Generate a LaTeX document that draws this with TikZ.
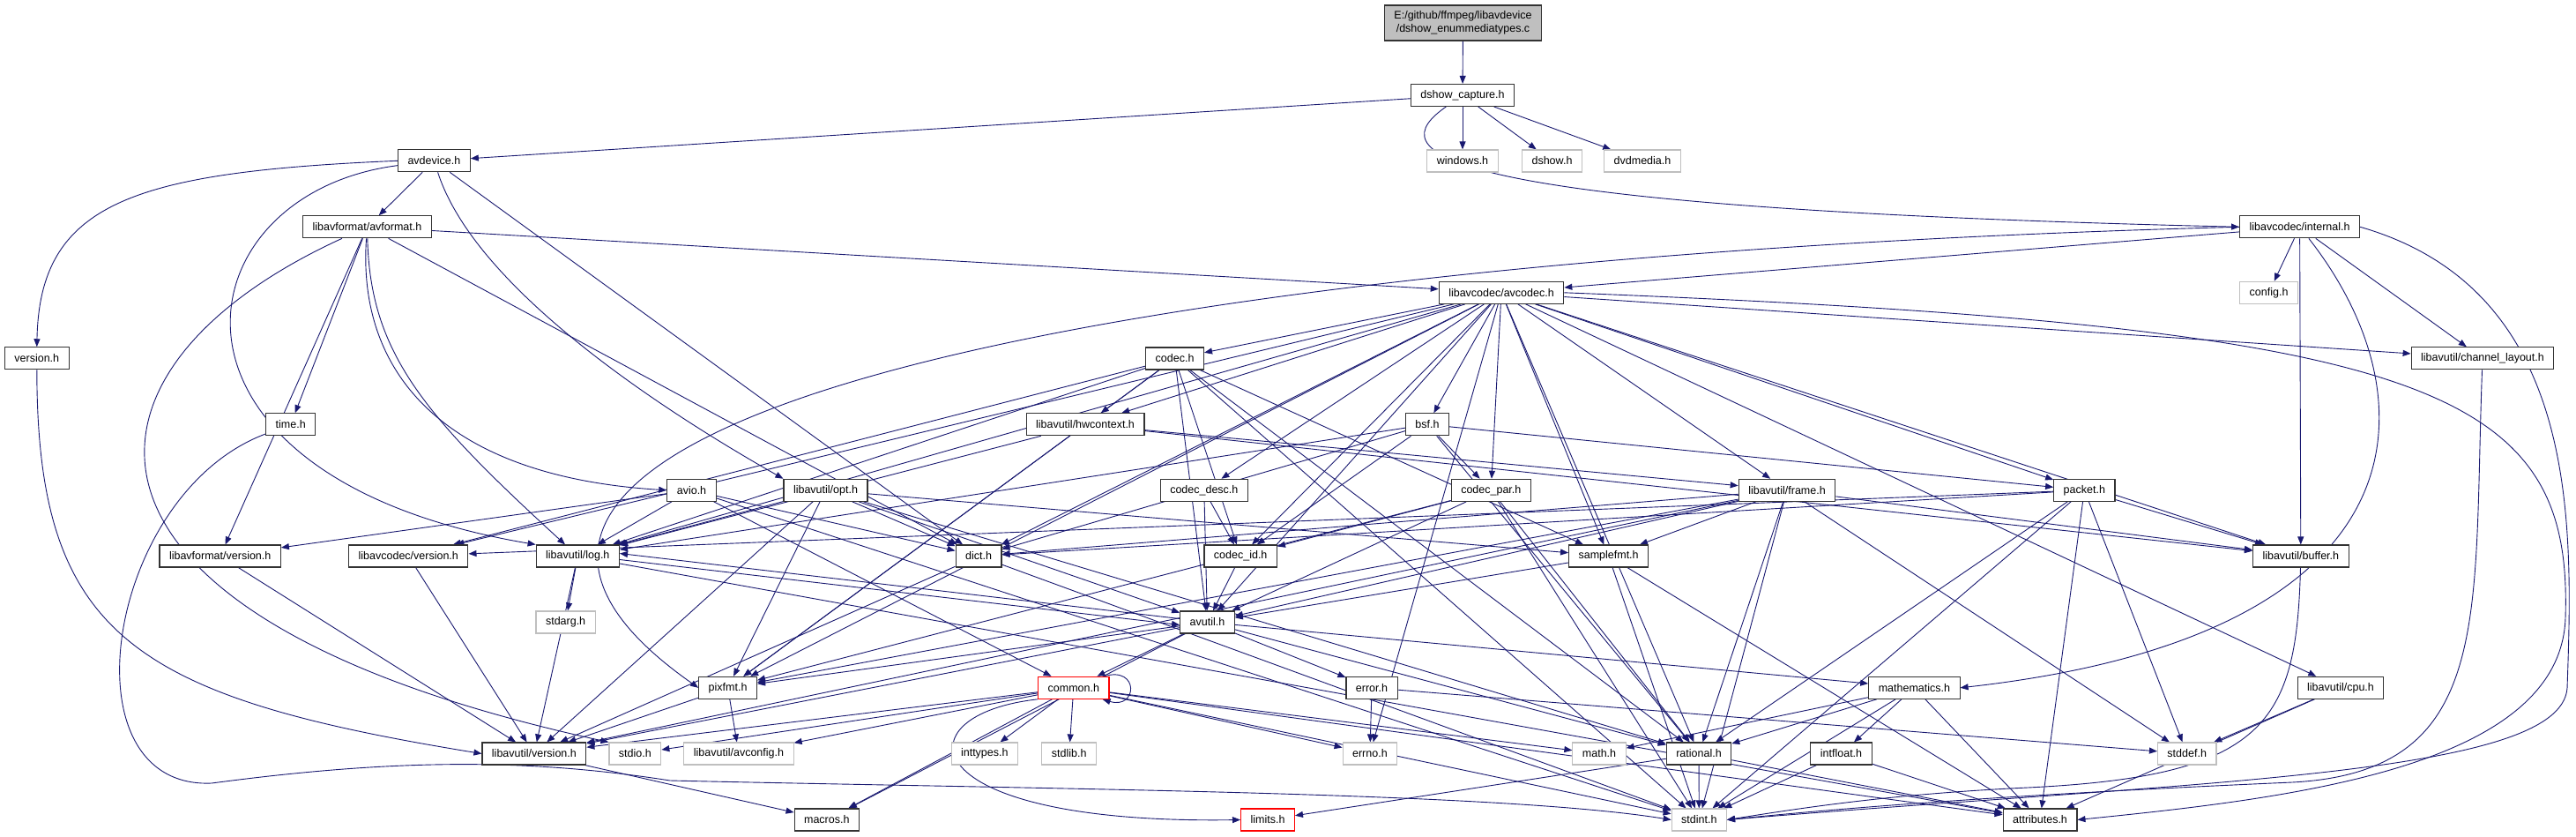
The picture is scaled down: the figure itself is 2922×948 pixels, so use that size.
\documentclass[tikz,border=0pt]{standalone}
\usepackage{fontspec}
\setmainfont{Liberation Sans}
\usepackage{tikz}
\usetikzlibrary{arrows.meta}
\usetikzlibrary{backgrounds}
\definecolor{midnight}{HTML}{191970}
\definecolor{boxgray}{HTML}{BFBFBF}
\tikzset{
file_box/.style={rectangle, draw=black!80, line width=1.1pt, fill=white, minimum height=25pt, inner xsep=11pt, inner ysep=0pt, font=\fontsize{12.5}{15}\selectfont},
sys_box/.style={file_box, draw=boxgray},
missing_box/.style={file_box, draw=red},
root_box/.style={file_box, fill=boxgray, align=center, minimum height=40pt},
dep_edge/.style={->, >={Triangle[length=9pt,width=7pt]}, color=midnight, line width=0.9pt}
}

\begin{document}
\begin{tikzpicture}[x=1pt, y=-1pt]
    \useasboundingbox (0,0) rectangle (2922,948);
    \node[root_box] (dshow_enum_c) at (1659.5,26) {E:/github/ffmpeg/libavdevice\\/dshow\_enummediatypes.c};
    \node[file_box] (dshow_capture_h) at (1659,108) {dshow\_capture.h};
    \node[sys_box] (windows_h) at (1659,182.5) {windows.h};
    \node[sys_box] (dshow_h) at (1760.5,182.5) {dshow.h};
    \node[sys_box] (dvdmedia_h) at (1863,182.5) {dvdmedia.h};
    \node[file_box] (avdevice_h) at (492.4,182.3) {avdevice.h};
    \node[file_box] (avformat_h) at (416.5,257.3) {libavformat/avformat.h};
    \node[file_box] (internal_h) at (2608.6,257.3) {libavcodec/internal.h};
    \node[file_box] (avcodec_h) at (1703,331.8) {libavcodec/avcodec.h};
    \node[sys_box] (config_h) at (2573.6,331.8) {config.h};
    \node[file_box] (version_h) at (41.8,406.3) {version.h};
    \node[file_box] (codec_h) at (1332.6,406.5) {codec.h};
    \node[file_box] (channel_layout_h) at (2816,406.3) {libavutil/channel\_layout.h};
    \node[file_box] (time_h) at (329.7,481.3) {time.h};
    \node[file_box] (hwcontext_h) at (1231,481.3) {libavutil/hwcontext.h};
    \node[file_box] (bsf_h) at (1619,481.3) {bsf.h};
    \node[file_box] (avio_h) at (784.5,555.8) {avio.h};
    \node[file_box] (opt_h) at (936.5,555.8) {libavutil/opt.h};
    \node[file_box] (codec_desc_h) at (1365.8,555.8) {codec\_desc.h};
    \node[file_box] (codec_par_h) at (1691.3,555.8) {codec\_par.h};
    \node[file_box] (frame_h) at (2027,555.8) {libavutil/frame.h};
    \node[file_box] (packet_h) at (2364.3,555.8) {packet.h};
    \node[file_box] (lavf_version_h) at (249.7,630.5) {libavformat/version.h};
    \node[file_box] (lavc_version_h) at (463.3,630.5) {libavcodec/version.h};
    \node[file_box] (log_h) at (655.3,630.5) {libavutil/log.h};
    \node[file_box] (dict_h) at (1110,630.5) {dict.h};
    \node[file_box] (codec_id_h) at (1407.2,630.5) {codec\_id.h};
    \node[file_box] (samplefmt_h) at (1824.6,630.5) {samplefmt.h};
    \node[file_box] (buffer_h) at (2609.8,630.5) {libavutil/buffer.h};
    \node[sys_box] (stdarg_h) at (641.6,705.5) {stdarg.h};
    \node[file_box] (avutil_h) at (1369.5,705.5) {avutil.h};
    \node[file_box] (pixfmt_h) at (825.6,779.8) {pixfmt.h};
    \node[missing_box] (common_h) at (1217.8,779.8) {common.h};
    \node[file_box] (error_h) at (1556,779.8) {error.h};
    \node[file_box] (mathematics_h) at (2171.4,779.8) {mathematics.h};
    \node[file_box] (cpu_h) at (2655,779.8) {libavutil/cpu.h};
    \node[file_box] (lavu_version_h) at (605.9,854.5) {libavutil/version.h};
    \node[sys_box] (stdio_h) at (720.4,854.5) {stdio.h};
    \node[sys_box] (avconfig_h) at (838,854.5) {libavutil/avconfig.h};
    \node[sys_box] (inttypes_h) at (1116.8,854.5) {inttypes.h};
    \node[sys_box] (stdlib_h) at (1212.7,854.5) {stdlib.h};
    \node[sys_box] (errno_h) at (1553.9,854.5) {errno.h};
    \node[sys_box] (math_h) at (1814,854.5) {math.h};
    \node[file_box] (rational_h) at (1927,854.5) {rational.h};
    \node[file_box] (intfloat_h) at (2088.5,854.5) {intfloat.h};
    \node[sys_box] (stddef_h) at (2480.7,854.5) {stddef.h};
    \node[file_box] (macros_h) at (937.8,929.5) {macros.h};
    \node[missing_box] (limits_h) at (1438,929.5) {limits.h};
    \node[sys_box] (stdint_h) at (1927.3,929.5) {stdint.h};
    \node[file_box] (attributes_h) at (2314,929.5) {attributes.h};

    \begin{scope}[on background layer]
    % top of the graph
    \path[dep_edge] (dshow_enum_c) edge (dshow_capture_h);
    \path[dep_edge] (dshow_capture_h) edge (avdevice_h) edge (windows_h) edge (dshow_h) edge (dvdmedia_h);
    \draw[dep_edge] (dshow_capture_h) .. controls (1570,170) and (1590,235) .. (internal_h.west);
    \path[dep_edge] (avdevice_h) edge (avformat_h) edge (dict_h);
    \draw[dep_edge] (avdevice_h) .. controls (540,330) and (760,470) .. (opt_h.north west);
    \draw[dep_edge] (avdevice_h.west) .. controls (150,195) and (45,230) .. (version_h.north);
    \draw[dep_edge] (avdevice_h) .. controls (200,220) and (150,540) .. (log_h.north west);
    \path[dep_edge] (avformat_h) edge (time_h) edge (avcodec_h) edge (dict_h) edge (lavf_version_h);
    \draw[dep_edge] (avformat_h) .. controls (60,420) and (40,700) .. (stdio_h.north west);
    \draw[dep_edge] (avformat_h) .. controls (405,420) and (500,540) .. (avio_h.west);
    \draw[dep_edge] (avformat_h) .. controls (420,400) and (480,470) .. (log_h);
    \path[dep_edge] (internal_h) edge (avcodec_h) edge (config_h) edge (channel_layout_h) edge (buffer_h);
    \draw[dep_edge] (internal_h) .. controls (2760,450) and (2760,720) .. (mathematics_h.east);
    \draw[dep_edge] (internal_h.west) .. controls (1300,290) and (350,470) .. (pixfmt_h.west);
    \draw[dep_edge] (internal_h.east) .. controls (2930,330) and (2918,600) .. (2912,780) .. controls (2905,880) and (2500,885) .. (stdint_h.east);
    % libavcodec/avcodec.h
    \path[dep_edge] (avcodec_h) edge (errno_h) edge (samplefmt_h) edge (avutil_h) edge (buffer_h) edge (cpu_h) edge (channel_layout_h) edge (dict_h) edge (frame_h) edge (hwcontext_h) edge (log_h) edge (pixfmt_h) edge (rational_h) edge (bsf_h) edge (codec_h) edge (codec_desc_h) edge (codec_par_h) edge (codec_id_h) edge (packet_h) edge (lavc_version_h);
    \draw[dep_edge] (avcodec_h.east) .. controls (2760,370) and (2918,440) .. (2910,700) .. controls (2905,870) and (2600,905) .. (attributes_h.east);
    \path[dep_edge] (codec_h) edge (stdint_h) edge (avutil_h) edge (hwcontext_h) edge (log_h) edge (pixfmt_h) edge (rational_h) edge (samplefmt_h) edge (codec_id_h) edge (lavc_version_h);
    \draw[dep_edge] (version_h) .. controls (42,720) and (150,790) .. (lavu_version_h.west);
    \draw[dep_edge] (time_h) .. controls (120,560) and (70,895) .. (240,888) .. controls (450,860) and (600,860) .. (760,885) .. controls (1200,895) and (1700,898) .. (stdint_h.west);
    \path[dep_edge] (hwcontext_h) edge (buffer_h) edge (frame_h) edge (log_h) edge (pixfmt_h);
    \path[dep_edge] (bsf_h) edge (dict_h) edge (log_h) edge (rational_h) edge (codec_id_h) edge (codec_par_h) edge (packet_h);
    \path[dep_edge] (avio_h) edge (stdint_h) edge (common_h) edge (dict_h) edge (log_h) edge (lavf_version_h);
    \path[dep_edge] (opt_h) edge (rational_h) edge (avutil_h) edge (dict_h) edge (log_h) edge (pixfmt_h) edge (samplefmt_h) edge (lavu_version_h);
    \path[dep_edge] (codec_desc_h) edge (avutil_h) edge (codec_id_h);
    \path[dep_edge] (codec_par_h) edge (stdint_h) edge (avutil_h) edge (rational_h) edge (pixfmt_h) edge (codec_id_h);
    \path[dep_edge] (frame_h) edge (stddef_h) edge (stdint_h) edge (avutil_h) edge (buffer_h) edge (dict_h) edge (rational_h) edge (samplefmt_h) edge (pixfmt_h) edge (lavu_version_h);
    \path[dep_edge] (packet_h) edge (stddef_h) edge (stdint_h) edge (attributes_h) edge (buffer_h) edge (dict_h) edge (rational_h) edge (lavc_version_h);
    \draw[dep_edge] (channel_layout_h) .. controls (2805,700) and (2830,875) .. (2600,887) .. controls (2300,900) and (2100,915) .. (stdint_h.east);
    % libavutil
    \path[dep_edge] (lavf_version_h) edge (lavu_version_h);
    \path[dep_edge] (lavc_version_h) edge (lavu_version_h);
    \path[dep_edge] (log_h) edge (stdarg_h) edge (attributes_h) edge (lavu_version_h);
    \draw[dep_edge] ([yshift=-4pt]log_h.east) -- ([yshift=-3pt]avutil_h.west);
    \draw[dep_edge] ([yshift=4pt]avutil_h.west) -- ([yshift=3pt]log_h.east);
    \path[dep_edge] (dict_h) edge (stdint_h) edge (lavu_version_h);
    \path[dep_edge] (codec_id_h) edge (avutil_h);
    \path[dep_edge] (samplefmt_h) edge (stdint_h) edge (avutil_h) edge (attributes_h);
    \draw[dep_edge] (buffer_h) .. controls (2605,820) and (2570,880) .. (2300,893) .. controls (2150,900) and (2050,915) .. (stdint_h.east);
    \path[dep_edge] (avutil_h) edge (common_h) edge (error_h) edge (lavu_version_h) edge (macros_h) edge (mathematics_h) edge (rational_h) edge (pixfmt_h);
    \path[dep_edge] (pixfmt_h) edge (avconfig_h) edge (lavu_version_h);
    \path[dep_edge] (common_h) edge (errno_h) edge (inttypes_h) edge (math_h) edge (stdint_h) edge (stdio_h) edge (stdlib_h) edge (attributes_h) edge (macros_h) edge (lavu_version_h) edge (avconfig_h);
    \draw[dep_edge] (common_h.south west) .. controls (1020,810) and (1030,935) .. (limits_h.west);
    \draw[dep_edge] ([xshift=-6pt]common_h.north east) .. controls +(40,-12) and +(40,12) .. ([xshift=-8pt]common_h.south east);
    \path[dep_edge] (error_h) edge (errno_h) edge (stddef_h);
    \path[dep_edge] (mathematics_h) edge (stdint_h) edge (math_h) edge (attributes_h) edge (rational_h) edge (intfloat_h);
    \path[dep_edge] (cpu_h) edge (stddef_h) edge (attributes_h);
    \path[dep_edge] (lavu_version_h) edge (macros_h);
    \path[dep_edge] (rational_h) edge (stdint_h) edge (limits_h) edge (attributes_h);
    \path[dep_edge] (intfloat_h) edge (stdint_h) edge (attributes_h);
    \end{scope}
\end{tikzpicture}
\end{document}
